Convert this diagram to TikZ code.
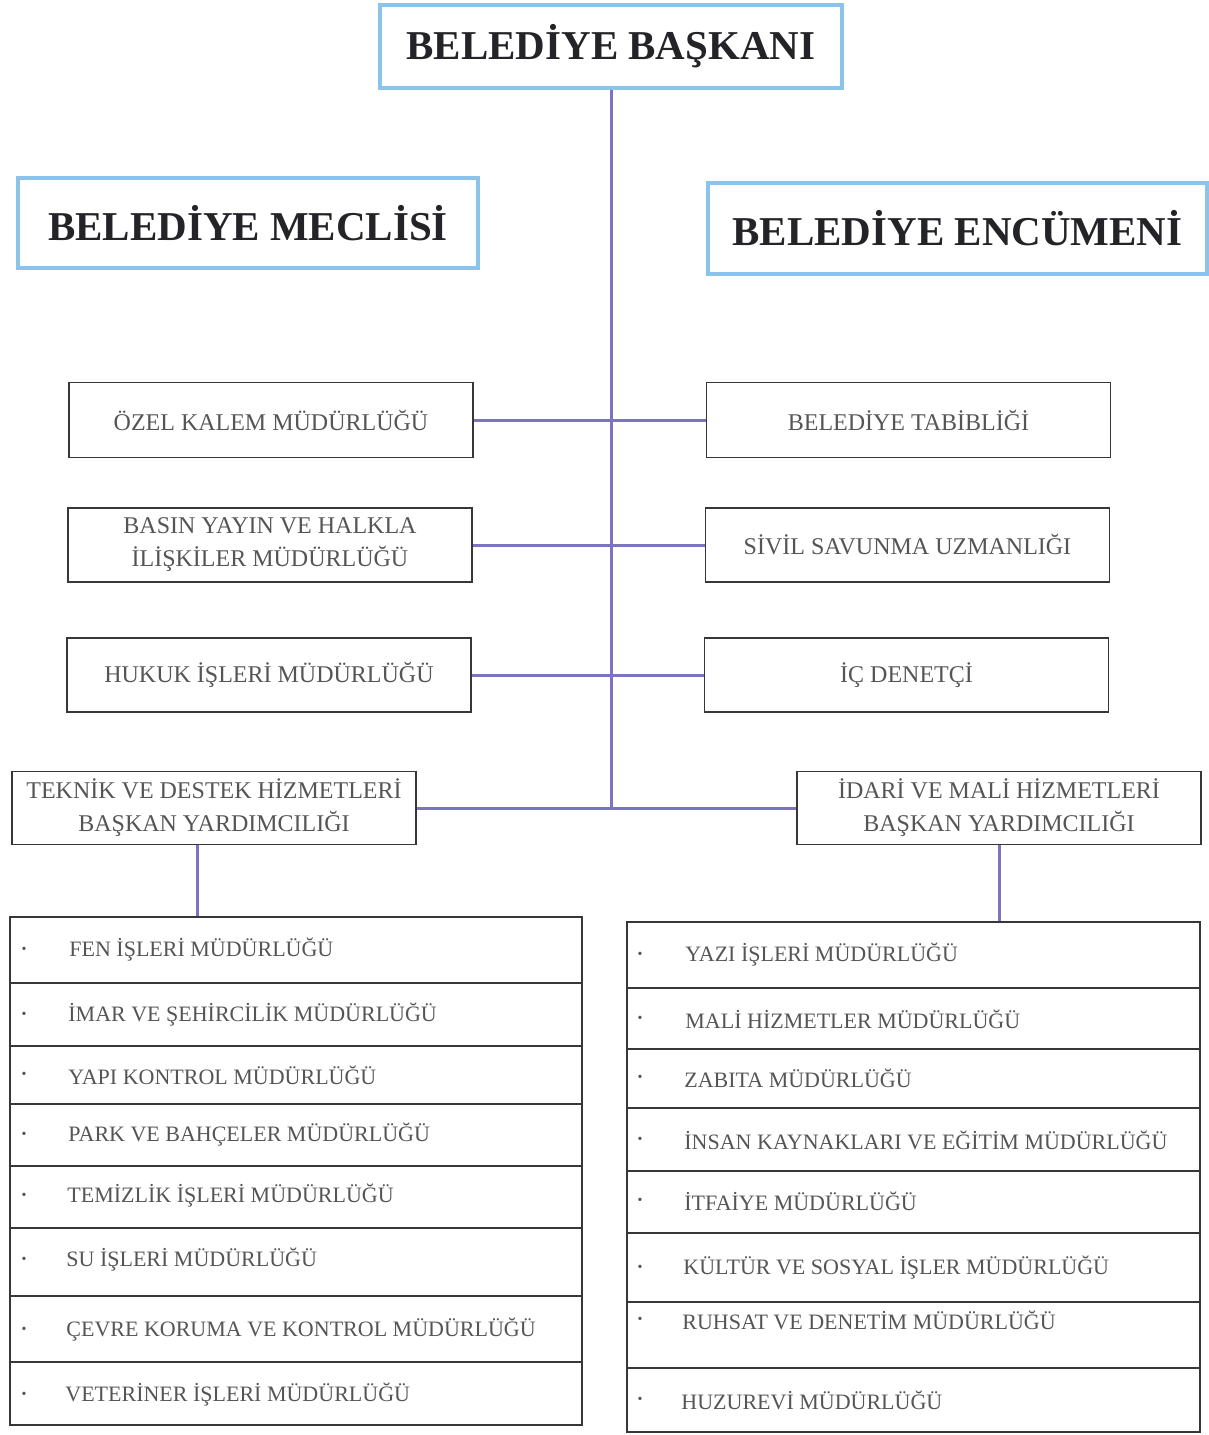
\documentclass[tikz,border=0pt]{standalone}
\usepackage{fontspec}
\setmainfont{Liberation Serif}
\definecolor{titleblue}{RGB}{140,195,235}
\definecolor{linkpurple}{RGB}{125,115,195}
\definecolor{boxgray}{RGB}{55,55,55}
\definecolor{txtgray}{RGB}{85,85,85}
\definecolor{titletxt}{RGB}{35,35,40}
\begin{document}
\begin{tikzpicture}[x=0.5pt,y=-0.5pt,
 titlebox/.style={draw=titleblue, line width=1.8pt, inner sep=0pt, font=\fontsize{20.5}{24}\selectfont\bfseries, text=titletxt},
 unitbox/.style={draw=boxgray, line width=0.9pt, inner sep=0pt, minimum width=202pt, font=\fontsize{12}{16.5}\selectfont, text=txtgray, align=center},
 rowbox/.style={draw=boxgray, line width=0.9pt, inner sep=0pt},
 itemtext/.style={anchor=west, inner sep=0pt, font=\fontsize{11}{13}\selectfont, text=txtgray},
 bul/.style={anchor=center, inner sep=0pt, font=\fontsize{7}{7}\selectfont, text=txtgray},
 link/.style={draw=linkpurple, line width=1.5pt}]
\useasboundingbox (0,0) rectangle (1209,1435);

% title boxes
\node[titlebox, minimum width=231pt, minimum height=41.5pt] (baskan) at (611,46.5) {BELEDİYE BAŞKANI};
\node[titlebox, minimum width=230pt, minimum height=45pt] (meclis) at (248,223) {BELEDİYE MECLİSİ};
\node[titlebox, minimum width=249.5pt, minimum height=45.5pt] (encumen) at (957.5,228.5) {BELEDİYE ENCÜMENİ};

% unit boxes
\node[unitbox, minimum height=37.5pt] (ozel) at (271,420) {ÖZEL KALEM MÜDÜRLÜĞÜ};
\node[unitbox, minimum height=37.5pt] (tabib) at (908.5,420) {BELEDİYE TABİBLİĞİ};
\node[unitbox, minimum height=37pt] (basin) at (270,545) {BASIN YAYIN VE HALKLA\\İLİŞKİLER MÜDÜRLÜĞÜ};
\node[unitbox, minimum height=37pt] (sivil) at (907.5,545) {SİVİL SAVUNMA UZMANLIĞI};
\node[unitbox, minimum height=37pt] (hukuk) at (269,675) {HUKUK İŞLERİ MÜDÜRLÜĞÜ};
\node[unitbox, minimum height=37pt] (icden) at (906.5,675) {İÇ DENETÇİ};
\node[unitbox, minimum height=36.5pt] (teknik) at (214,808) {TEKNİK VE DESTEK HİZMETLERİ\\BAŞKAN YARDIMCILIĞI};
\node[unitbox, minimum height=36.5pt] (idari) at (999,808) {İDARİ VE MALİ HİZMETLERİ\\BAŞKAN YARDIMCILIĞI};

% left list
\foreach \i/\t/\b/\ty/\tx/\txt in {
 1/917/983/950/69/FEN İŞLERİ MÜDÜRLÜĞÜ,
 2/983/1046/1015/68/İMAR VE ŞEHİRCİLİK MÜDÜRLÜĞÜ,
 3/1046/1104/1075/68/YAPI KONTROL MÜDÜRLÜĞÜ,
 4/1104/1166/1135/68/PARK VE BAHÇELER MÜDÜRLÜĞÜ,
 5/1166/1228/1196/67/TEMİZLİK İŞLERİ MÜDÜRLÜĞÜ,
 6/1228/1296/1260/66/SU İŞLERİ MÜDÜRLÜĞÜ,
 7/1296/1362/1330/66/ÇEVRE KORUMA VE KONTROL MÜDÜRLÜĞÜ,
 8/1362/1425/1395/65/VETERİNER İŞLERİ MÜDÜRLÜĞÜ}{
 \node[rowbox, minimum width=286pt, minimum height={(\b-\t)*0.5pt}] (L\i) at (296,{(\t+\b)/2}) {};
 \node[bul] (Lb\i) at (24,\ty) {\textbullet};
 \node[itemtext] (Lt\i) at (\tx,\ty) {\txt};
}

% right list
\foreach \i/\t/\b/\ty/\tx/\txt in {
 1/922/988/955/685/YAZI İŞLERİ MÜDÜRLÜĞÜ,
 2/988/1049/1019/685/MALİ HİZMETLER MÜDÜRLÜĞÜ,
 3/1049/1108/1078/684/ZABITA MÜDÜRLÜĞÜ,
 4/1108/1171/1140/684/İNSAN KAYNAKLARI VE EĞİTİM MÜDÜRLÜĞÜ,
 5/1171/1233/1201/684/İTFAİYE MÜDÜRLÜĞÜ,
 6/1233/1302/1268/683/KÜLTÜR VE SOSYAL İŞLER MÜDÜRLÜĞÜ,
 7/1302/1368/1320/682/RUHSAT VE DENETİM MÜDÜRLÜĞÜ,
 8/1368/1432/1400/681/HUZUREVİ MÜDÜRLÜĞÜ}{
 \node[rowbox, minimum width=286.5pt, minimum height={(\b-\t)*0.5pt}] (R\i) at (913.5,{(\t+\b)/2}) {};
 \node[bul] (Rb\i) at (640,\ty) {\textbullet};
 \node[itemtext] (Rt\i) at (\tx,\ty) {\txt};
}

% connectors
\coordinate (junc) at (baskan.south |- teknik.east);
\draw[link] (baskan.south) -- (junc);
\draw[link] (ozel.east) -- (tabib.west);
\draw[link] (basin.east) -- (sivil.west);
\draw[link] (hukuk.east) -- (icden.west);
\draw[link] (teknik.east) -- (idari.west);
\coordinate (tekdown) at ([xshift=-8.5pt]teknik.south);
\draw[link] (tekdown) -- (tekdown |- L1.north);
\draw[link] (idari.south) -- (idari.south |- R1.north);
\end{tikzpicture}
\end{document}
